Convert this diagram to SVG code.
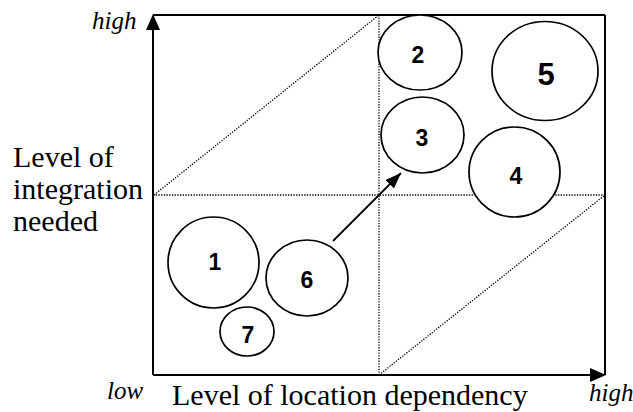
<svg xmlns="http://www.w3.org/2000/svg" width="633" height="412" viewBox="0 0 633 412">
<defs>
<style>
.ax{stroke:#000;stroke-width:2;fill:none}
.dot{stroke:#000;stroke-width:1.3;stroke-dasharray:1.3 1.4;fill:none}
.node ellipse{fill:#fff;stroke:#000;stroke-width:1.7}
.num{font-family:"Liberation Sans",Arial,sans-serif;font-weight:bold;font-size:23px;text-anchor:middle;fill:#000}
.big{font-size:31px}
.lbl{font-family:"Liberation Serif","Times New Roman",serif;font-size:30px;fill:#000}
.it{font-family:"Liberation Serif","Times New Roman",serif;font-style:italic;font-size:25px;fill:#000}
</style>
<marker id="ah" viewBox="0 0 16 12" refX="16" refY="6" markerWidth="16" markerHeight="12" markerUnits="userSpaceOnUse" orient="auto">
<path d="M0,0 L16,6 L0,12 Z" fill="#000"/>
</marker>
</defs>
<rect width="633" height="412" fill="#fff"/>
<g id="grid">
<line class="dot" x1="379" y1="15" x2="379" y2="375"/>
<line class="dot" x1="153" y1="195" x2="605" y2="195"/>
<line class="dot" x1="154" y1="195" x2="379" y2="15"/>
<line class="dot" x1="379" y1="375" x2="605" y2="195"/>
</g>
<g id="axes">
<line class="ax" x1="153" y1="15" x2="605" y2="15"/>
<line class="ax" x1="605" y1="15" x2="605" y2="375"/>
<line class="ax" x1="153" y1="375" x2="153" y2="28"/>
<path d="M153,14 L160,30 L146,30 Z" fill="#000"/>
<line class="ax" x1="153" y1="375" x2="592" y2="375"/>
<path d="M606,375 L590,368 L590,382 Z" fill="#000"/>
</g>
<g id="n2" class="node"><ellipse cx="420" cy="52.5" rx="42" ry="37.5"/><text class="num" x="418" y="62.5">2</text></g>
<g id="n5" class="node"><ellipse cx="545" cy="71" rx="53" ry="49.5"/><text class="num big" x="546" y="85">5</text></g>
<g id="n3" class="node"><ellipse cx="422.5" cy="135" rx="41.5" ry="38"/><text class="num" x="422" y="146">3</text></g>
<g id="n4" class="node"><ellipse cx="514.5" cy="172" rx="45.5" ry="45"/><text class="num" x="516" y="183.5">4</text></g>
<g id="n1" class="node"><ellipse cx="213.5" cy="262.5" rx="45.5" ry="45.5"/><text class="num" x="215" y="270">1</text></g>
<g id="n6" class="node"><ellipse cx="307" cy="278" rx="41" ry="38"/><text class="num" x="307" y="287.5">6</text></g>
<g id="n7" class="node"><ellipse cx="247" cy="331.5" rx="27" ry="24.5"/><text class="num" x="248" y="342.5">7</text></g>
<g id="connectors">
<line x1="333" y1="241" x2="401" y2="173" stroke="#000" stroke-width="1.8" marker-end="url(#ah)"/>
</g>
<g id="labels">
<text class="it" x="92" y="29">high</text>
<text class="it" x="107" y="399">low</text>
<text class="it" x="589" y="401">high</text>
<text class="lbl" x="172" y="405">Level of location dependency</text>
<text class="lbl" x="13" y="167">Level of</text>
<text class="lbl" x="13" y="199">integration</text>
<text class="lbl" x="13" y="231">needed</text>
</g>
</svg>
